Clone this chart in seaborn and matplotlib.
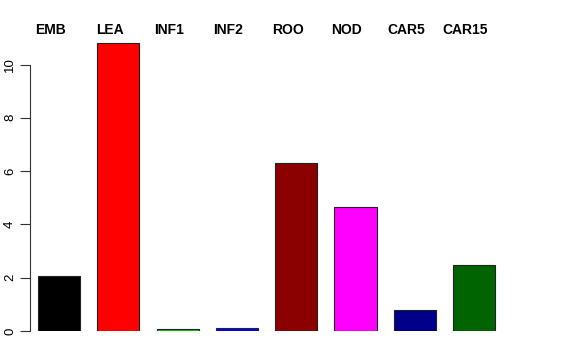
import matplotlib
matplotlib.use("Agg")
import matplotlib.pyplot as plt
import seaborn as sns
import pandas as pd

categories = ["EMB", "LEA", "INF1", "INF2", "ROO", "NOD", "CAR5", "CAR15"]
values = [2.05, 10.8, 0.08, 0.13, 6.32, 4.65, 0.77, 2.47]
bar_colors = ["#000000", "#FF0000", "#00CD00", "#0000FF",
              "#8B0000", "#FF00FF", "#00008B", "#006400"]
y_ticks = [0, 2, 4, 6, 8, 10]

sns.set_style("white")
plt.rcParams["font.family"] = ["Liberation Sans", "DejaVu Sans"]
plt.rcParams["text.color"] = "black"
plt.rcParams["ytick.color"] = "black"

df = pd.DataFrame({"category": categories, "value": values})

W, H = 576, 360
fig = plt.figure(figsize=(W / 100, H / 100), dpi=100)
# axes in pixel terms: left spine at x=30, zero line at y=331
ax_left, ax_right = 30, 546
ax_bottom, ax_top = 331, 20
ax = fig.add_axes([ax_left / W, 1 - ax_bottom / H,
                   (ax_right - ax_left) / W, (ax_bottom - ax_top) / H])

sns.barplot(data=df, x="category", y="value", hue="category",
            palette=bar_colors, legend=False, width=0.71,
            edgecolor="#222222", linewidth=0.8, saturation=1, ax=ax)

step = 59.3
ax.set_xlim((ax_left - 59) / step, (ax_right - 59) / step)
px_per_unit = 26.65
ax.set_ylim(0, (ax_bottom - ax_top) / px_per_unit)

ax.set_yticks(y_ticks)
ax.set_yticklabels([str(t) for t in y_ticks], rotation=90, va="center",
                   fontsize=9.5, color="black")
ax.tick_params(axis="y", length=7, width=0.8, color="#333333", pad=3, left=True)
ax.set_xticks([])
ax.set_xlabel("")
ax.set_ylabel("")
for s in ["top", "right", "bottom"]:
    ax.spines[s].set_visible(False)
ax.spines["left"].set_bounds(0, 10)
ax.spines["left"].set_color("#333333")
ax.spines["left"].set_linewidth(0.8)

# category names above the plot
label_y = (ax_bottom - 29.5) / px_per_unit
for i, name in enumerate(categories):
    ax.text(i - 0.145, label_y, name, ha="center", va="center",
            fontsize=10, fontweight="bold", color="black", clip_on=False)

fig.savefig("out.png", dpi=100)
